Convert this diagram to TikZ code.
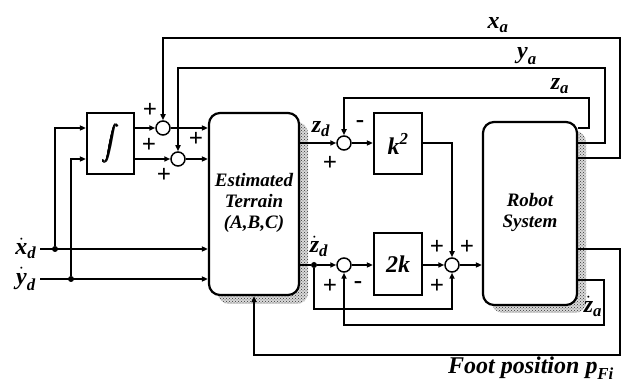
\documentclass[tikz,border=0pt]{standalone}
\usepackage{amsmath}
\usepackage{fontspec}
\setmainfont{Liberation Serif}
\usetikzlibrary{arrows.meta,patterns}
\newcommand{\bi}[1]{\textbf{\textit{#1}}}
\newcommand{\fakebold}[1]{\rlap{\kern-0.8pt#1}\rlap{\kern0.8pt#1}\rlap{\raisebox{0.6pt}{#1}}\rlap{\raisebox{-0.6pt}{#1}}#1}
\begin{document}
\begin{tikzpicture}[x=1pt,y=-1pt,
 wire/.style={line width=1.5pt},
 arr/.style={wire,-{Triangle[length=6pt,width=5pt]}},
 blk/.style={draw,line width=2.2pt,fill=white,inner sep=0pt},
 sumc/.style={draw,circle,line width=1.5pt,minimum size=14pt,inner sep=0pt,fill=white},
 rbox/.style={blk,rounded corners=11pt},
 shade/.style={pattern=crosshatch dots,pattern color=black!80,rounded corners=11pt},
 lab/.style={font=\fontsize{24}{26}\selectfont},
 txt/.style={font=\fontsize{19}{21}\selectfont\bfseries\itshape,align=center},
 sgn/.style={font=\fontsize{25}{25}\selectfont\bfseries},
 jdot/.style={circle,fill,inner sep=0pt,minimum size=6pt}]
\useasboundingbox (0,0) rectangle (627,387);

% shadows
\fill[black!15,rounded corners=11pt] (218,122) rectangle (308,304);
\fill[shade] (218,122) rectangle (308,304);
\fill[black!15,rounded corners=11pt] (492,131) rectangle (586,313);
\fill[shade] (492,131) rectangle (586,313);

% blocks
\node[rbox,minimum width=90pt,minimum height=182pt] (ter) at (254,204) {};
\node[txt] at (254,203) {Estimated\\Terrain\\(A,B,C)};
\node[rbox,minimum width=94pt,minimum height=183pt] (rob) at (530,213.5) {};
\node[txt] at (530,212) {Robot\\System};
\node[blk,minimum width=47pt,minimum height=61pt] (int) at (110.5,143.5)
  {\fontsize{19}{22}\selectfont\fakebold{$\displaystyle\int$}};
\node[blk,minimum width=48pt,minimum height=61pt] (k2) at (398,143.5)
  {\fontsize{24}{26}\selectfont$\bi{k}^{\bi{2}}$};
\node[blk,minimum width=48pt,minimum height=62pt] (tk) at (398,264)
  {\fontsize{24}{26}\selectfont\bi{2k}};

% summing junctions
\node[sumc] (s1) at (163,128) {};
\node[sumc] (s2) at (178,159) {};
\node[sumc] (s3) at (344,143) {};
\node[sumc] (s4) at (344,265) {};
\node[sumc] (s5) at (452,265) {};

% junction dots and free ends
\node[jdot] (jx) at (55,249) {};
\node[jdot] (jy) at (71,279) {};
\node[jdot] (jz) at (314,265) {};
\coordinate (xin) at (40,249);
\coordinate (yin) at (40,279);

% inputs
\draw[arr] (xin) -- (ter.west |- xin);
\draw[arr] (yin) -- (ter.west |- yin);
\draw[arr] (jx) |- (int.west |- s1);
\draw[arr] (jy) |- (int.west |- s2);
\draw[arr] (int.east |- s1) -- (s1.west);
\draw[arr] (int.east |- s2) -- (s2.west);
\draw[arr] (s1.east) -- (ter.west |- s1);
\draw[arr] (s2.east) -- (ter.west |- s2);

% feedback x_a, y_a, z_a
\draw[arr] (rob.east |- 0,158) -- (620,158) -- (620,38) -| (s1.north);
\draw[arr] (rob.east |- 0,143) -- (605,143) -- (605,68) -| (s2.north);
\draw[arr] (rob.east |- 0,128) -- (589,128) -- (589,98) -| (s3.north);

% z_d path
\draw[arr] (ter.east |- s3) -- (s3.west);
\draw[arr] (s3.east) -- (k2.west |- s3);
\draw[arr] (k2.east |- s3) -| (s5.north);

% zdot_d path
\draw[wire] (ter.east |- jz) -- (jz);
\draw[arr] (jz) -- (s4.west);
\draw[arr] (s4.east) -- (tk.west |- s4);
\draw[arr] (tk.east |- s5) -- (s5.west);
\draw[arr] (s5.east) -- (rob.west |- s5);
\draw[arr] (jz) |- (383,309) -| (s5.south);
\draw[arr] (rob.east |- 0,280) -- (604,280) -- (604,325) -| (s4.south);

% foot position
\draw[arr] (rob.east |- 0,249) -- (620,249) -- (620,355) -| (ter.south);

% labels
\node[lab] at (498,25) {$\bi{x}_{\bi{a}}$};
\node[lab] at (527,56) {$\bi{y}_{\bi{a}}$};
\node[lab] at (560,86) {$\bi{z}_{\bi{a}}$};
\node[lab] at (321,129) {$\bi{z}_{\bi{d}}$};
\node[lab] at (319,246) {$\dot{\bi{z}}_{\bi{d}}$};
\node[lab] at (593,306) {$\dot{\bi{z}}_{\bi{a}}$};
\node[lab] at (26,248) {$\dot{\bi{x}}_{\bi{d}}$};
\node[lab] at (26,279) {$\dot{\bi{y}}_{\bi{d}}$};
\node[lab] at (531,368) {\bfseries\itshape Foot position $\bi{p}_{\bi{Fi}}$};

% signs
\node[sgn] at (150,110) {+};
\node[sgn] at (149,145) {+};
\node[sgn] at (196,139) {+};
\node[sgn] at (164,175) {+};
\node[sgn] at (360,124) {-};
\node[sgn] at (330,163) {+};
\node[sgn] at (330,286) {+};
\node[sgn] at (358,285) {-};
\node[sgn] at (437,247) {+};
\node[sgn] at (467,247) {+};
\node[sgn] at (437,286) {+};
\end{tikzpicture}
\end{document}
